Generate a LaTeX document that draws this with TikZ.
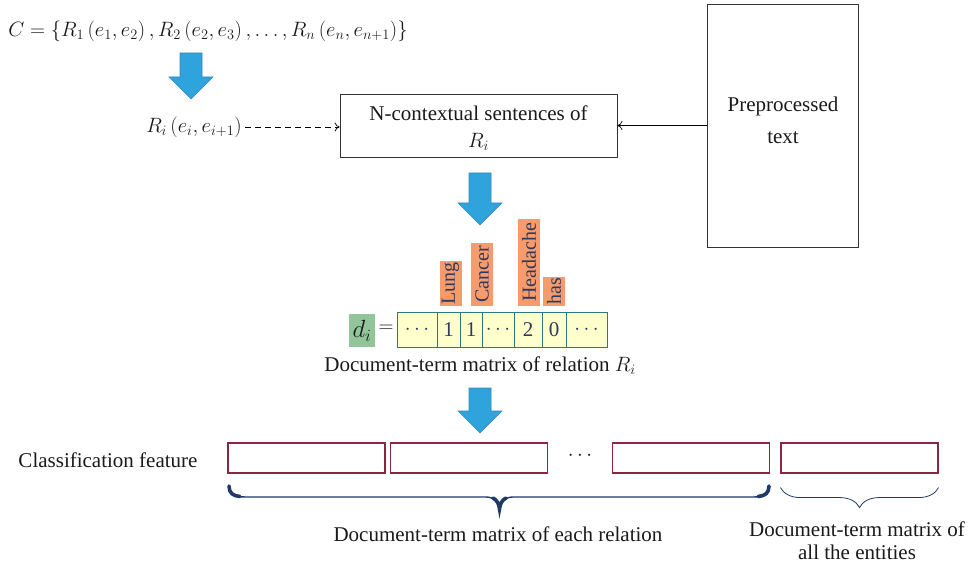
\documentclass[tikz,border=0pt]{standalone}
\usepackage{fontspec}
\setmainfont{Liberation Serif}
\usetikzlibrary{arrows.meta,decorations.pathreplacing,calc}
\definecolor{bluearr}{HTML}{2EA3DC}
\definecolor{bluebd}{HTML}{3A87B8}
\definecolor{orng}{HTML}{F79B6C}
\definecolor{navy}{HTML}{2B3A5E}
\definecolor{cellfill}{HTML}{FFFFCC}
\definecolor{cellbd}{HTML}{2F7A78}
\definecolor{grn}{HTML}{93C59A}
\definecolor{redbd}{HTML}{8C2540}
\definecolor{bracecol}{HTML}{1F3A66}
\definecolor{txt}{HTML}{1A1A1A}
\newcommand\blockarr[3]{\filldraw[barrow] (#1-11,#2) -- (#1+11,#2) -- (#1+11,#3-22) -- (#1+22,#3-22) -- (#1,#3) -- (#1-22,#3-22) -- (#1-11,#3-22) -- cycle;}
\begin{document}
\begin{tikzpicture}[x=1pt,y=-1pt,
  font=\fontsize{21}{25}\selectfont, text=txt,
  barrow/.style={fill=bluearr,draw=bluebd,line width=0.6pt},
  plainbox/.style={draw=black!80,line width=0.8pt,align=center},
  lbl/.style={fill=orng,rotate=90,anchor=west,minimum height=22,inner sep=1pt,text=navy,font=\fontsize{20}{24}\selectfont},
  cell/.style={draw=cellbd,fill=cellfill,line width=1pt,minimum height=35,inner sep=0pt,text=navy},
  featbox/.style={draw=redbd,line width=1.1pt,minimum width=157,minimum height=30},
  bracethin/.style={draw=bracecol,line width=1.4pt,line cap=round},
  bracethick/.style={draw=bracecol,line width=3.6pt,line cap=round},
  bracesmall/.style={draw=bracecol,line width=0.8pt,decorate,decoration={brace,amplitude=20}},
  conn/.style={line width=0.7pt,-{To[length=5pt,width=9pt]}}]
\useasboundingbox (0,0) rectangle (971,569);

% top formula
\node (C) at (208,31) {$C=\{R_1\,(e_1,e_2)\,,R_2\,(e_2,e_3)\,,\dots,R_n\,(e_n,e_{n+1})\}$};
\blockarr{191}{53}{99}

% relation and N-contextual box
\node (Ri) at (194,127) {$R_i\,(e_i,e_{i+1})$};
\node[plainbox,minimum width=277,minimum height=63] (nctx) at (478.5,125.5) {};
\node[align=center,font=\fontsize{21}{27}\selectfont] (nctxtext) at (478.5,128) {N-contextual sentences of\\$R_i$};
\node[plainbox,minimum width=151,minimum height=243] (pre) at (783,125.5) {};
\node[align=center,font=\fontsize{21}{32}\selectfont] (pretext) at (783,120) {Preprocessed\\text};
\draw[conn,dashed,dash pattern=on 6pt off 4pt] (Ri.east) -- (Ri.east -| nctx.west);
\draw[conn] (pre.west) -- (nctx.east);

\blockarr{480}{173}{225}

% term labels
\node[lbl,minimum width=45] (lung) at (450.5,306) {Lung};
\node[lbl,minimum width=63] (cancer) at (482,306) {Cancer};
\node[lbl,minimum width=87] (head) at (529,306) {Headache};
\node[lbl,minimum width=29] (has) at (554,306) {has};

% matrix
\node[cell,minimum width=40] (c1) at (417,329.5) {$\cdots$};
\node[cell,minimum width=23] (c2) at (448.5,329.5) {1};
\node[cell,minimum width=22] (c3) at (471,329.5) {1};
\node[cell,minimum width=32] (c4) at (498,329.5) {$\cdots$};
\node[cell,minimum width=28] (c5) at (528,329.5) {2};
\node[cell,minimum width=24] (c6) at (554,329.5) {0};
\node[cell,minimum width=41] (c7) at (586.5,329.5) {$\cdots$};
\node[fill=grn,minimum width=26,minimum height=33,inner sep=0pt,font=\fontsize{24}{28}\selectfont] (d) at (362,330.5) {$d_i$};
\node (eq) at (386,329) {$=$};
\node (cap) at (480,366) {Document-term matrix of relation $R_i$};

\blockarr{480}{388}{433}

% classification feature
\node (cf) at (108,460) {Classification feature};
\node[featbox] (f1) at (306.5,458) {};
\node[featbox] (f2) at (469,458) {};
\node (dots) at (580,456) {$\cdots$};
\node[featbox] (f3) at (691,458) {};
\node[featbox] (f4) at (859.5,458) {};

% big brace
\draw[bracethin] (229,486) .. controls (229,494) and (234,497) .. (246,497) -- (486,497)
  .. controls (494,497) and (498,502) .. (499.5,509) .. controls (501,502) and (505,497) .. (513,497)
  -- (753,497) .. controls (765,497) and (769,494) .. (769,486);
\draw[bracethick] (229,486) .. controls (229,493) and (233,496) .. (240,496.5);
\draw[bracethick] (769,486) .. controls (769,493) and (765,496) .. (758,496.5);
\draw[bracethick] (493,498) .. controls (497,500) and (499,504) .. (499.5,509) .. controls (500,504) and (502,500) .. (506,498);
\draw[bracesmall] ($(f4.south east)+(0,14)$) -- ($(f4.south west)+(0,14)$);

\node (t1) at (498,534) {Document-term matrix of each relation};
\node[align=center,font=\fontsize{21}{23}\selectfont] (t2) at (857,541) {Document-term matrix of\\all the entities};
\end{tikzpicture}
\end{document}
